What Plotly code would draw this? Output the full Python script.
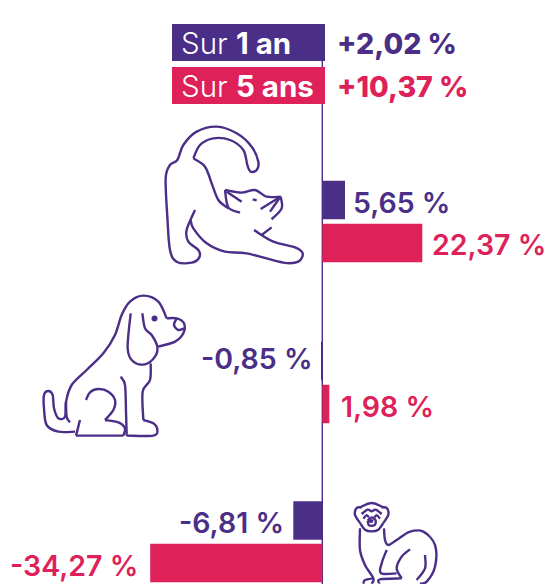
import plotly.graph_objects as go

W, H = 546, 584
PURPLE = "#4a2e87"
RED = "#de2159"

# ---- data ----
categories = ["Chats", "Chiens", "Furets"]
labels_1an = ["5,65 %", "-0,85 %", "-6,81 %"]
labels_5ans = ["22,37 %", "1,98 %", "-34,27 %"]
# bar lengths as drawn in the picture (the source graphic is not strictly to scale)
bars_1an = [5.08, -0.25, -6.49]
bars_5ans = [22.37, 1.57, -38.5]
legend_names = ["Sur <b>1 an</b>", "Sur <b>5 ans</b>"]
legend_values = ["+2,02 %", "+10,37 %"]

# ---- layout constants ----
PX_PER_UNIT = 100 / 22.37
ZERO = 322.3
Y_1AN = [200, 361, 520.5]
Y_5ANS = [243, 404, 563]
LABEL_Y_1AN = [202, 358, 522.5]
LABEL_Y_5ANS = [244, 406, 565]
BAR_H = 38.5
FONT = "Inter"
FS = 28.5


def xval(px):
    return (px - ZERO) / PX_PER_UNIT


def smooth(pts, ox, oy, s=3.0):
    """Catmull-Rom through zoomed-crop points -> SVG path in paper coordinates."""
    P = [(x / s + ox, y / s + oy) for x, y in pts]
    fx = lambda x: f"{x / W:.5f}"
    fy = lambda y: f"{1 - y / H:.5f}"
    d = f"M{fx(P[0][0])},{fy(P[0][1])}"
    for i in range(len(P) - 1):
        p0 = P[max(i - 1, 0)]
        p1, p2 = P[i], P[i + 1]
        p3 = P[min(i + 2, len(P) - 1)]
        c1 = (p1[0] + (p2[0] - p0[0]) / 6, p1[1] + (p2[1] - p0[1]) / 6)
        c2 = (p2[0] - (p3[0] - p1[0]) / 6, p2[1] - (p3[1] - p1[1]) / 6)
        d += f" C{fx(c1[0])},{fy(c1[1])} {fx(c2[0])},{fy(c2[1])} {fx(p2[0])},{fy(p2[1])}"
    return d


CAT = [
    [(105, 270), (80, 330), (85, 365), (115, 390), (118, 412), (95, 428), (50, 425), (30, 390),
     (22, 290), (17, 175), (30, 135), (52, 120), (70, 75), (110, 35), (170, 20), (230, 40),
     (275, 80), (295, 125), (290, 150), (272, 155), (262, 135), (250, 90), (210, 60), (160, 55),
     (120, 75), (100, 115)],
    [(100, 115), (135, 140), (155, 190), (175, 240), (205, 265)],
    [(195, 210), (205, 262), (240, 278)],
    [(195, 210), (245, 218), (285, 210), (320, 230), (362, 230)],
    [(362, 230), (365, 265), (335, 298)],
    [(200, 215), (245, 245)],
    [(302, 267), (362, 230)],
    [(330, 275), (358, 235)],
    [(278, 238), (290, 241)],
    [(335, 322), (305, 345)],
    [(282, 330), (340, 365), (405, 382), (428, 400), (415, 425), (370, 428), (260, 400),
     (195, 395), (140, 370), (100, 325), (92, 300)],
]
DOG = [
    [(135, 440), (85, 440), (50, 420), (42, 370), (42, 330), (55, 318), (68, 330), (72, 370), (85, 400),
     (105, 395), (108, 350), (125, 300), (170, 255), (220, 205), (255, 150), (275, 90), (300, 50),
     (340, 32), (385, 50), (410, 100)],
    [(410, 100), (440, 100), (462, 115), (460, 145), (435, 170), (385, 185)],
    [(150, 405), (138, 452)],
    [(138, 452), (280, 452)],
    [(280, 452), (285, 430), (265, 412), (225, 405)],
    [(225, 405), (250, 375), (255, 345), (235, 320), (205, 312), (180, 322), (168, 345)],
    [(272, 275), (285, 300), (288, 380), (290, 452)],
    [(290, 452), (370, 452), (382, 435), (370, 415), (340, 405)],
    [(340, 405), (338, 320), (360, 285), (362, 235)],
    [(302, 85), (293, 190), (310, 230), (345, 238), (375, 215), (382, 185), (365, 150), (345, 130), (337, 85)],
    [(440, 100), (432, 120), (445, 135), (462, 130)],
    [(108, 350), (110, 395), (120, 412)],
]
FERRET_BODY = [
    [(240, 115), (240, 180), (255, 225), (280, 265), (275, 281)],
    [(312, 115), (315, 150), (325, 165), (350, 150), (390, 125), (430, 125), (465, 165), (465, 230), (440, 275), (420, 281)],
    [(390, 178), (365, 200), (350, 235), (365, 265)],
    [(365, 265), (300, 268), (298, 281)],
    [(435, 195), (435, 235), (410, 270)],
    [(320, 180), (305, 220), (303, 250), (350, 250)],
    [(280, 265), (255, 270), (250, 281)],
]
FERRET_HEAD = [
    [(45, 75), (30, 50), (35, 30), (50, 28)],
    [(115, 75), (130, 50), (125, 30), (110, 28)],
    [(45, 28), (80, 15), (115, 28)],
    [(45, 75), (60, 95), (80, 100), (100, 95), (115, 75)],
    [(50, 48), (68, 35), (80, 40), (92, 35), (110, 48)],
    [(55, 62), (64, 52), (72, 58)],
    [(88, 58), (96, 52), (105, 62)],
    [(68, 68), (80, 58), (92, 68), (88, 82), (72, 82), (68, 68)],
]

shapes = []
for polys, ox, oy in [(CAT, 160, 120), (DOG, 30, 285), (FERRET_BODY, 280, 490), (FERRET_HEAD, 345, 498)]:
    for poly in polys:
        shapes.append(dict(type="path", xref="paper", yref="paper", path=smooth(poly, ox, oy),
                           line=dict(color=PURPLE, width=2.4), layer="above"))
# dog's eye
shapes.append(dict(type="circle", xref="paper", yref="paper",
                   x0=(151.5) / W, x1=(157.5) / W, y0=1 - 321.5 / H, y1=1 - 315.5 / H,
                   fillcolor=PURPLE, line=dict(width=0)))
# ferret's nose
shapes.append(dict(type="circle", xref="paper", yref="paper",
                   x0=(368.5) / W, x1=(373.5) / W, y0=1 - 523 / H, y1=1 - 519 / H,
                   fillcolor=PURPLE, line=dict(width=0)))
# axis line
shapes.append(dict(type="line", xref="x", yref="y", x0=0, x1=0, y0=61, y1=H,
                   line=dict(color=PURPLE, width=1.4), layer="below"))

fig = go.Figure()
fig.add_bar(name="Sur 1 an", y=Y_1AN, x=bars_1an, orientation="h", width=BAR_H,
            marker=dict(color=PURPLE, line=dict(width=0)), customdata=categories,
            hovertemplate="%{customdata}: %{x}<extra></extra>")
fig.add_bar(name="Sur 5 ans", y=Y_5ANS, x=bars_5ans, orientation="h", width=BAR_H,
            marker=dict(color=RED, line=dict(width=0)), customdata=categories,
            hovertemplate="%{customdata}: %{x}<extra></extra>")
# legend boxes
fig.add_bar(y=[42.5], x=[xval(325) - xval(172)], base=[xval(172)], orientation="h", width=37,
            marker=dict(color=PURPLE, line=dict(width=0)), hoverinfo="skip")
fig.add_bar(y=[85.5], x=[xval(325) - xval(172)], base=[xval(172)], orientation="h", width=37,
            marker=dict(color=RED, line=dict(width=0)), hoverinfo="skip")

annotations = []


def text(px, y, s, color, anchor, size=FS, weight=600):
    annotations.append(dict(xref="x", yref="y", x=xval(px), y=y, text=s, showarrow=False,
                            xanchor=anchor, yanchor="middle", xshift=0,
                            font=dict(family=FONT, size=size, color=color, weight=weight)))


for i, y in enumerate([42.5, 85.5]):
    col = [PURPLE, RED][i]
    text(179, y, legend_names[i], "white", "left", size=29.5, weight=300)
    text(335, y + 1, legend_values[i], col, "left", size=28.5, weight=800)

for s, y, px, a in zip(labels_1an, LABEL_Y_1AN, [351, 315, 286], ["left", "right", "right"]):
    text(px, y, s, PURPLE, a)
for s, y, px, a in zip(labels_5ans, LABEL_Y_5ANS, [430, 339, 140], ["left", "left", "right"]):
    text(px, y, s, RED, a)

fig.update_layout(
    width=W, height=H, margin=dict(l=0, r=0, t=0, b=0), autosize=False,
    paper_bgcolor="white", plot_bgcolor="white", showlegend=False, barmode="overlay",
    xaxis=dict(range=[xval(0), xval(W)], visible=False, fixedrange=True),
    yaxis=dict(range=[H, 0], visible=False, fixedrange=True),
    shapes=shapes, annotations=annotations,
)
fig.write_html("out.html", config=dict(displayModeBar=False),
               post_script="document.body.style.margin='0';document.documentElement.style.overflow='hidden';window.dispatchEvent(new Event('resize'));")
